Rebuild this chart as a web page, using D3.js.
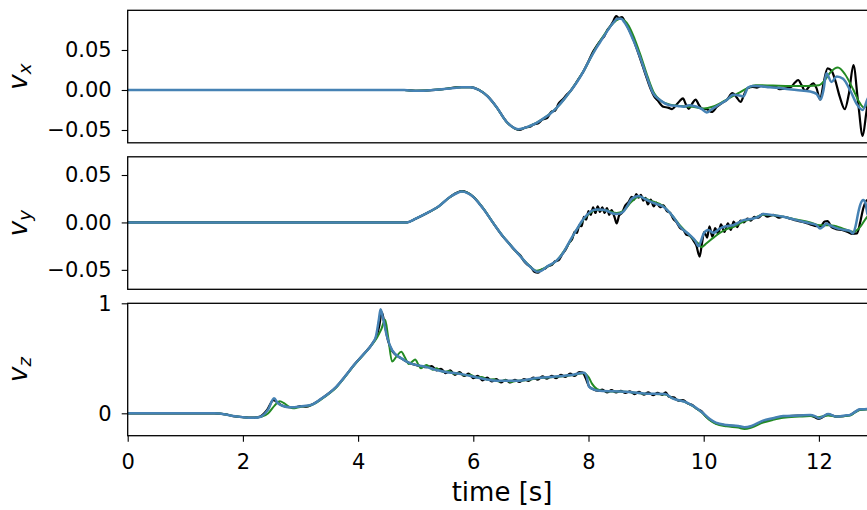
<!DOCTYPE html>
<html>
<head>
<meta charset="utf-8">
<script src="https://cdn.jsdelivr.net/npm/d3@7"></script>
<style>
  html, body { margin: 0; padding: 0; background: #fff; }
  svg { display: block; font-family: "DejaVu Sans", sans-serif; }
</style>
</head>
<body>
<svg id="chart" width="867" height="510"></svg>
<script>
// ---- data: [time (s), velocity] ----
const timeTicks = [0, 2, 4, 6, 8, 10, 12];
const vxTicks = [-0.05, 0, 0.05];
const vyTicks = [-0.05, 0, 0.05];
const vzTicks = [0, 1];

const vxMeasured = [[0,0],[4.8,0],[5.0,-0.001],[5.4,0.0005],[5.8,0.0035],[5.95,0.0035],[6.1,0.0],[6.25,-0.008],[6.4,-0.021],[6.58,-0.040],[6.72,-0.048],[6.8,-0.050],[6.9,-0.047],[6.98,-0.046],[7.05,-0.043],[7.12,-0.042],[7.2,-0.037],[7.28,-0.035],[7.36,-0.027],[7.42,-0.026],[7.48,-0.017],[7.55,-0.012],[7.62,-0.006],[7.68,-0.002],[7.76,0.006],[7.82,0.013],[7.91,0.023],[8.0,0.036],[8.08,0.048],[8.14,0.055],[8.22,0.063],[8.28,0.068],[8.32,0.074],[8.38,0.080],[8.43,0.086],[8.48,0.0925],[8.53,0.090],[8.58,0.091],[8.64,0.084],[8.7,0.076],[8.78,0.063],[8.86,0.047],[8.94,0.030],[9.01,0.015],[9.08,0.001],[9.14,-0.008],[9.2,-0.013],[9.3,-0.021],[9.38,-0.022],[9.45,-0.024],[9.52,-0.019],[9.58,-0.014],[9.64,-0.0105],[9.69,-0.018],[9.74,-0.0235],[9.8,-0.017],[9.86,-0.012],[9.92,-0.019],[9.97,-0.0235],[10.05,-0.024],[10.14,-0.0275],[10.23,-0.021],[10.32,-0.016],[10.4,-0.0125],[10.5,-0.004],[10.57,-0.009],[10.64,-0.015],[10.7,-0.006],[10.76,0.002],[10.85,0.004],[10.92,0.003],[11.0,0.005],[11.1,0.004],[11.23,0.005],[11.32,0.001],[11.43,0.002],[11.52,0.004],[11.58,0.009],[11.64,0.0125],[11.7,0.006],[11.76,-0.001],[11.83,0.004],[11.9,0.0083],[11.96,0.002],[12.02,-0.012],[12.08,0.008],[12.15,0.027],[12.22,0.024],[12.28,0.013],[12.36,-0.008],[12.45,-0.024],[12.52,-0.005],[12.6,0.031],[12.68,-0.015],[12.76,-0.0575],[12.82,-0.03],[12.88,0.003],[12.95,0.03],[13.0,0.035]];
const vxSmoothed = [[0,0],[4.8,0],[5.0,-0.001],[5.4,0.0005],[5.8,0.0035],[5.95,0.0035],[6.1,0.0],[6.25,-0.008],[6.4,-0.021],[6.58,-0.040],[6.78,-0.049],[6.98,-0.045],[7.21,-0.036],[7.45,-0.022],[7.68,-0.002],[7.91,0.023],[8.14,0.054],[8.32,0.074],[8.45,0.085],[8.55,0.089],[8.62,0.087],[8.7,0.080],[8.8,0.064],[8.92,0.040],[9.03,0.016],[9.14,-0.004],[9.25,-0.013],[9.4,-0.018],[9.6,-0.020],[9.8,-0.021],[10.0,-0.023],[10.15,-0.021],[10.3,-0.016],[10.45,-0.010],[10.6,-0.004],[10.75,0.002],[10.9,0.006],[11.2,0.0055],[11.5,0.005],[11.8,0.005],[12.0,0.006],[12.1,0.012],[12.2,0.022],[12.33,0.028],[12.45,0.020],[12.6,0.0],[12.7,-0.015],[12.78,-0.022],[12.86,-0.015],[13.0,0.005]];
const vxEstimated = [[0,0],[4.8,0],[5.0,-0.001],[5.2,-0.0005],[5.4,0.0005],[5.6,0.002],[5.8,0.0035],[5.95,0.0035],[6.1,0.0],[6.25,-0.008],[6.4,-0.021],[6.58,-0.040],[6.78,-0.049],[6.98,-0.045],[7.1,-0.041],[7.21,-0.036],[7.33,-0.030],[7.45,-0.022],[7.56,-0.013],[7.68,-0.002],[7.8,0.010],[7.91,0.023],[8.02,0.038],[8.14,0.053],[8.23,0.063],[8.32,0.073],[8.43,0.084],[8.5,0.089],[8.57,0.089],[8.62,0.085],[8.68,0.078],[8.78,0.062],[8.89,0.042],[9.01,0.017],[9.12,-0.004],[9.24,-0.0125],[9.41,-0.019],[9.55,-0.020],[9.65,-0.021],[9.75,-0.019],[9.88,-0.021],[9.97,-0.024],[10.05,-0.028],[10.14,-0.024],[10.23,-0.020],[10.4,-0.0125],[10.51,-0.006],[10.6,-0.0065],[10.69,-0.008],[10.77,0.003],[10.85,0.005],[10.92,0.005],[11.15,0.0033],[11.38,0.002],[11.61,0.0],[11.85,-0.002],[11.96,-0.005],[12.03,-0.012],[12.08,0.0],[12.13,0.021],[12.22,0.010],[12.31,0.017],[12.42,0.014],[12.54,0.0],[12.66,-0.018],[12.76,-0.025],[12.84,-0.012],[12.95,0.005],[13.0,0.01]];

const vyMeasured = [[0,0],[4.85,0],[5.0,0.004],[5.2,0.010],[5.4,0.017],[5.6,0.027],[5.8,0.033],[6.0,0.027],[6.17,0.0148],[6.35,-0.001],[6.52,-0.0152],[6.62,-0.022],[6.7,-0.028],[6.75,-0.031],[6.82,-0.035],[6.87,-0.040],[6.93,-0.044],[7.0,-0.047],[7.06,-0.052],[7.12,-0.053],[7.18,-0.050],[7.24,-0.049],[7.3,-0.046],[7.36,-0.045],[7.42,-0.041],[7.48,-0.040],[7.55,-0.033],[7.6,-0.029],[7.66,-0.022],[7.72,-0.017],[7.76,-0.010],[7.8,-0.011],[7.84,-0.003],[7.88,-0.004],[7.92,0.006],[7.96,0.003],[8.0,0.012],[8.04,0.008],[8.08,0.016],[8.12,0.010],[8.16,0.017],[8.2,0.011],[8.24,0.016],[8.28,0.010],[8.32,0.015],[8.36,0.008],[8.4,0.013],[8.45,0.006],[8.49,-0.001],[8.53,0.007],[8.58,0.010],[8.64,0.018],[8.7,0.022],[8.75,0.027],[8.79,0.024],[8.83,0.030],[8.87,0.026],[8.91,0.029],[8.95,0.023],[8.99,0.026],[9.03,0.019],[9.08,0.024],[9.13,0.017],[9.18,0.021],[9.24,0.016],[9.3,0.018],[9.36,0.012],[9.42,0.010],[9.47,0.004],[9.53,0.0],[9.59,-0.006],[9.65,-0.008],[9.7,-0.013],[9.76,-0.014],[9.82,-0.019],[9.87,-0.024],[9.93,-0.036],[9.97,-0.022],[10.01,-0.010],[10.06,-0.016],[10.1,-0.004],[10.15,-0.015],[10.2,-0.006],[10.25,-0.012],[10.3,-0.002],[10.36,-0.010],[10.42,-0.001],[10.47,-0.008],[10.52,0.001],[10.58,-0.005],[10.64,0.002],[10.7,0.0],[10.76,0.004],[10.82,0.002],[10.88,0.006],[10.95,0.005],[11.03,0.009],[11.1,0.006],[11.21,0.008],[11.3,0.005],[11.38,0.006],[11.5,0.004],[11.61,0.002],[11.75,0.0],[11.85,-0.002],[11.96,-0.004],[12.03,-0.004],[12.1,0.001],[12.15,0.0014],[12.22,-0.005],[12.3,-0.007],[12.4,-0.008],[12.5,-0.010],[12.58,-0.012],[12.66,-0.0116],[12.72,0.001],[12.77,0.0148],[12.84,0.0236],[12.92,0.02],[13.0,0.01]];
const vySmoothed = [[0,0],[4.85,0],[5.0,0.004],[5.2,0.010],[5.4,0.017],[5.6,0.027],[5.8,0.0325],[6.0,0.027],[6.17,0.015],[6.35,-0.001],[6.52,-0.015],[6.75,-0.031],[6.93,-0.043],[7.1,-0.051],[7.27,-0.047],[7.45,-0.040],[7.62,-0.026],[7.79,-0.008],[7.97,0.007],[8.14,0.0135],[8.32,0.0125],[8.49,0.010],[8.6,0.012],[8.75,0.022],[8.87,0.027],[9.07,0.023],[9.3,0.017],[9.47,0.006],[9.6,-0.004],[9.76,-0.014],[9.9,-0.022],[9.96,-0.026],[10.05,-0.022],[10.17,-0.016],[10.28,-0.011],[10.4,-0.007],[10.51,-0.005],[10.69,0.001],[10.86,0.004],[11.03,0.008],[11.21,0.0075],[11.38,0.006],[11.61,0.003],[11.85,0.0],[12.02,-0.003],[12.2,-0.003],[12.4,-0.006],[12.6,-0.010],[12.7,-0.006],[12.84,0.006],[13.0,0.012]];
const vyEstimated = [[0,0],[4.85,0],[5.0,0.004],[5.2,0.010],[5.4,0.017],[5.6,0.027],[5.72,0.031],[5.8,0.0325],[5.9,0.031],[6.0,0.027],[6.1,0.020],[6.17,0.0148],[6.35,-0.001],[6.52,-0.0152],[6.75,-0.031],[6.93,-0.0434],[7.03,-0.049],[7.1,-0.052],[7.18,-0.051],[7.27,-0.047],[7.45,-0.040],[7.55,-0.033],[7.62,-0.0258],[7.7,-0.017],[7.79,-0.008],[7.88,0.001],[7.97,0.0077],[8.05,0.012],[8.14,0.0137],[8.25,0.0135],[8.32,0.0123],[8.4,0.010],[8.49,0.0088],[8.6,0.011],[8.68,0.018],[8.75,0.025],[8.87,0.028],[8.97,0.025],[9.07,0.022],[9.2,0.019],[9.3,0.0165],[9.4,0.011],[9.47,0.006],[9.59,-0.0046],[9.76,-0.0134],[9.85,-0.019],[9.91,-0.025],[9.95,-0.020],[10.0,-0.0116],[10.08,-0.008],[10.17,-0.011],[10.28,-0.0064],[10.4,-0.004],[10.51,-0.0029],[10.69,0.0024],[10.86,0.0042],[10.95,0.006],[11.03,0.0088],[11.21,0.0077],[11.38,0.006],[11.61,0.0024],[11.85,-0.001],[11.96,-0.003],[12.02,-0.0064],[12.08,-0.004],[12.13,-0.001],[12.22,-0.004],[12.3,-0.006],[12.45,-0.008],[12.54,-0.009],[12.59,-0.0116],[12.64,-0.003],[12.68,0.0095],[12.72,0.019],[12.77,0.0236],[12.81,0.020],[12.84,0.0095],[12.9,0.005],[13.0,0.006]];

const vzMeasured = [[0,0],[1.5,0],[1.7,-0.01],[1.83,-0.025],[2.0,-0.035],[2.18,-0.04],[2.3,-0.03],[2.42,0.03],[2.53,0.12],[2.6,0.10],[2.68,0.07],[2.8,0.055],[2.9,0.055],[3.0,0.065],[3.1,0.06],[3.2,0.08],[3.37,0.135],[3.5,0.185],[3.62,0.24],[3.78,0.34],[3.93,0.44],[4.1,0.54],[4.25,0.636],[4.32,0.70],[4.37,0.80],[4.41,0.92],[4.45,0.84],[4.52,0.66],[4.6,0.56],[4.75,0.50],[4.88,0.46],[5.0,0.44],[5.19,0.42],[5.28,0.43],[5.36,0.39],[5.44,0.405],[5.52,0.365],[5.6,0.39],[5.68,0.35],[5.76,0.375],[5.84,0.34],[5.92,0.36],[6.0,0.32],[6.08,0.34],[6.16,0.30],[6.24,0.325],[6.32,0.29],[6.4,0.31],[6.48,0.28],[6.56,0.305],[6.64,0.28],[6.72,0.305],[6.8,0.285],[6.88,0.31],[6.96,0.295],[7.04,0.325],[7.12,0.305],[7.2,0.335],[7.28,0.315],[7.36,0.34],[7.44,0.32],[7.52,0.35],[7.6,0.33],[7.68,0.36],[7.76,0.34],[7.84,0.375],[7.9,0.37],[7.95,0.32],[8.01,0.245],[8.08,0.22],[8.16,0.205],[8.24,0.215],[8.32,0.19],[8.4,0.21],[8.48,0.19],[8.56,0.205],[8.64,0.185],[8.72,0.2],[8.8,0.175],[8.88,0.195],[8.96,0.17],[9.04,0.19],[9.12,0.165],[9.2,0.185],[9.28,0.168],[9.34,0.19],[9.4,0.15],[9.48,0.145],[9.56,0.115],[9.64,0.12],[9.72,0.09],[9.8,0.075],[9.88,0.04],[9.96,0.02],[10.04,-0.03],[10.21,-0.09],[10.4,-0.11],[10.6,-0.12],[10.71,-0.133],[10.83,-0.12],[11.03,-0.075],[11.2,-0.05],[11.38,-0.03],[11.66,-0.02],[11.85,-0.018],[12.0,-0.05],[12.08,-0.03],[12.16,-0.01],[12.31,-0.03],[12.54,-0.015],[12.62,0.01],[12.71,0.033],[12.84,0.039],[13.0,0.045]];
const vzSmoothed = [[0,0],[1.5,0],[1.7,-0.01],[1.83,-0.025],[2.0,-0.035],[2.18,-0.04],[2.33,-0.03],[2.44,0.0],[2.55,0.07],[2.64,0.11],[2.72,0.09],[2.8,0.06],[2.87,0.045],[2.99,0.058],[3.18,0.073],[3.37,0.13],[3.5,0.18],[3.62,0.235],[3.78,0.335],[3.93,0.435],[4.1,0.535],[4.25,0.63],[4.33,0.69],[4.4,0.76],[4.47,0.85],[4.52,0.70],[4.59,0.47],[4.67,0.52],[4.75,0.56],[4.82,0.50],[4.88,0.448],[4.94,0.47],[4.99,0.49],[5.05,0.44],[5.09,0.41],[5.14,0.425],[5.19,0.44],[5.25,0.415],[5.3,0.395],[5.36,0.41],[5.42,0.39],[5.5,0.375],[5.58,0.385],[5.66,0.36],[5.75,0.365],[5.85,0.345],[5.95,0.35],[6.05,0.325],[6.15,0.33],[6.25,0.305],[6.35,0.31],[6.45,0.29],[6.55,0.3],[6.65,0.285],[6.76,0.295],[6.9,0.3],[7.07,0.315],[7.39,0.33],[7.7,0.345],[7.92,0.365],[8.0,0.33],[8.06,0.27],[8.15,0.22],[8.3,0.2],[8.64,0.195],[8.96,0.178],[9.33,0.172],[9.46,0.135],[9.71,0.095],[9.96,0.01],[10.1,-0.06],[10.21,-0.095],[10.4,-0.118],[10.6,-0.13],[10.71,-0.143],[10.83,-0.13],[11.03,-0.085],[11.2,-0.06],[11.38,-0.04],[11.66,-0.03],[11.85,-0.025],[12.0,-0.035],[12.16,-0.02],[12.31,-0.03],[12.54,-0.02],[12.62,0.005],[12.71,0.03],[12.84,0.036],[13.0,0.04]];
const vzEstimated = [[0,0],[1.5,0],[1.7,-0.01],[1.83,-0.025],[2.0,-0.035],[2.18,-0.04],[2.28,-0.035],[2.33,-0.025],[2.44,0.036],[2.54,0.136],[2.61,0.09],[2.7,0.066],[2.8,0.055],[2.9,0.055],[2.99,0.062],[3.18,0.075],[3.37,0.136],[3.5,0.185],[3.62,0.24],[3.78,0.34],[3.93,0.44],[4.1,0.54],[4.25,0.636],[4.31,0.70],[4.36,0.85],[4.39,0.945],[4.43,0.87],[4.5,0.70],[4.59,0.575],[4.75,0.50],[4.88,0.46],[5.0,0.44],[5.19,0.42],[5.35,0.395],[5.5,0.378],[5.82,0.354],[6.13,0.318],[6.44,0.296],[6.76,0.296],[7.07,0.318],[7.39,0.333],[7.7,0.348],[7.92,0.369],[7.97,0.33],[8.01,0.242],[8.1,0.215],[8.2,0.205],[8.64,0.196],[8.96,0.18],[9.33,0.175],[9.46,0.136],[9.71,0.097],[9.96,0.015],[10.1,-0.05],[10.21,-0.085],[10.4,-0.106],[10.6,-0.115],[10.71,-0.127],[10.83,-0.115],[11.03,-0.067],[11.2,-0.045],[11.38,-0.025],[11.66,-0.02],[11.85,-0.015],[11.93,-0.025],[12.0,-0.045],[12.08,-0.025],[12.16,-0.006],[12.31,-0.03],[12.45,-0.02],[12.54,-0.015],[12.62,0.01],[12.71,0.036],[12.84,0.039],[13.0,0.045]];

// ---- layout ----
const svg = d3.select("#chart");
const plotLeft = 127.7, plotRight = 876.5;
const x = d3.scaleLinear().domain([0, 13]).range([plotLeft, plotRight]);

const panels = [
  { id: "vx", sub: "x", top: 10.3, bottom: 142.8, domain: [-0.066, 0.0996], ticks: vxTicks, fmt: d3.format(".2f"),
    series: [vxMeasured, vxSmoothed, vxEstimated] },
  { id: "vy", sub: "y", top: 156.8, bottom: 289.3, domain: [-0.0705, 0.0692], ticks: vyTicks, fmt: d3.format(".2f"),
    series: [vyMeasured, vySmoothed, vyEstimated] },
  { id: "vz", sub: "z", top: 303.3, bottom: 435.7, domain: [-0.2036, 1.0], ticks: vzTicks, fmt: d3.format("d"),
    series: [vzMeasured, vzSmoothed, vzEstimated] }
];

const styles = [
  { color: "#000000", width: 2.2 },
  { color: "#238b23", width: 2.0 },
  { color: "#4682b4", width: 2.5 }
];

const tickFont = 21, labelFont = 26;

panels.forEach((p, i) => {
  const y = d3.scaleLinear().domain(p.domain).range([p.bottom, p.top]);
  const g = svg.append("g");

  const clipId = "clip-" + p.id;
  svg.append("clipPath").attr("id", clipId)
    .append("rect").attr("x", plotLeft).attr("y", p.top)
    .attr("width", plotRight - plotLeft).attr("height", p.bottom - p.top);

  const line = d3.line().x(d => x(d[0])).y(d => y(d[1])).curve(d3.curveMonotoneX);
  const lines = g.append("g").attr("clip-path", `url(#${clipId})`);
  p.series.forEach((s, k) => {
    lines.append("path").datum(s)
      .attr("d", line)
      .attr("fill", "none")
      .attr("stroke", styles[k].color)
      .attr("stroke-width", styles[k].width)
      .attr("stroke-linejoin", "round")
      .attr("stroke-linecap", "round");
  });

  // frame
  g.append("rect")
    .attr("x", plotLeft).attr("y", p.top)
    .attr("width", plotRight - plotLeft).attr("height", p.bottom - p.top)
    .attr("fill", "none").attr("stroke", "#000").attr("stroke-width", 1.3);

  // y axis
  const ya = g.append("g").attr("transform", `translate(${plotLeft},0)`)
    .call(d3.axisLeft(y).tickValues(p.ticks).tickFormat(p.fmt).tickSize(6).tickPadding(10));
  ya.select(".domain").remove();
  ya.selectAll(".tick line").attr("stroke", "#000").attr("stroke-width", 1.1);
  ya.selectAll(".tick text").attr("fill", "#000")
    .style("font-family", "DejaVu Sans").style("font-size", tickFont + "px");

  // y label: italic v with subscript
  const yl = g.append("text")
    .attr("transform", `translate(27,${(p.top + p.bottom) / 2}) rotate(-90)`)
    .attr("text-anchor", "middle")
    .style("font-family", "DejaVu Sans").style("font-style", "oblique")
    .style("font-size", labelFont + "px");
  yl.append("tspan").text("v");
  yl.append("tspan").attr("dy", "0.22em").style("font-size", (labelFont * 0.7) + "px").text(p.sub);

  // x axis on the bottom panel only
  if (i === panels.length - 1) {
    const xa = g.append("g").attr("transform", `translate(0,${p.bottom})`)
      .call(d3.axisBottom(x).tickValues(timeTicks).tickFormat(d3.format("d")).tickSize(6).tickPadding(12));
    xa.select(".domain").remove();
    xa.selectAll(".tick line").attr("stroke", "#000").attr("stroke-width", 1.1);
    xa.selectAll(".tick text").attr("fill", "#000")
      .style("font-family", "DejaVu Sans").style("font-size", tickFont + "px");
  }
});

svg.append("text")
  .attr("x", (plotLeft + plotRight) / 2).attr("y", 501)
  .attr("text-anchor", "middle")
  .style("font-family", "DejaVu Sans").style("font-size", labelFont + "px")
  .text("time [s]");
</script>
</body>
</html>
